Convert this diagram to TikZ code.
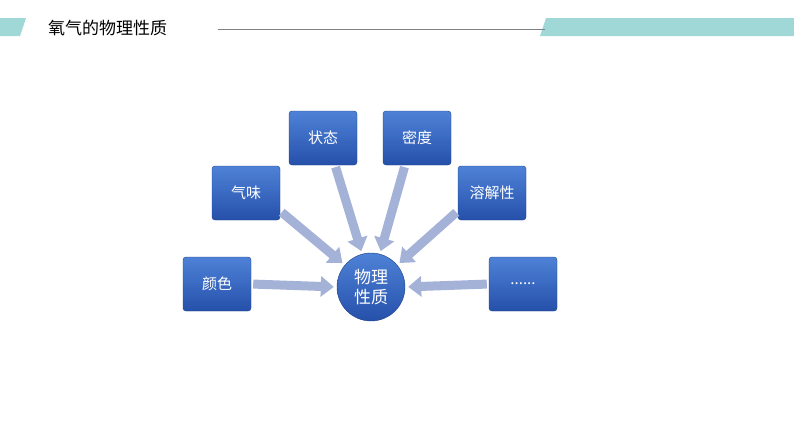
\documentclass[tikz,border=0pt]{standalone}
\usepackage{fontspec}
\setmainfont{Noto Sans CJK SC}
\usetikzlibrary{arrows.meta}
\definecolor{teal}{RGB}{160,215,215}
\definecolor{btop}{RGB}{78,130,215}
\definecolor{bbot}{RGB}{38,80,170}
\definecolor{arr}{RGB}{165,178,215}
\tikzset{
 box/.style={rounded corners=3pt,top color=btop,bottom color=bbot,draw=bbot!80!black,line width=0.4pt,minimum width=68pt,minimum height=54pt,text=white,font=\fontsize{15}{18}\selectfont,inner sep=0pt},
 fat/.style={arr,line width=9pt,-{Triangle[width=20pt,length=13pt]},shorten <=2pt,shorten >=3pt}
}
\begin{document}
\begin{tikzpicture}[x=1pt,y=-1pt]
\useasboundingbox (0,0) rectangle (794,447);
\fill[teal] (0,18) -- (26,18) -- (20,36) -- (0,36) -- cycle;
\fill[teal] (546,18) -- (794,18) -- (794,36) -- (540,36) -- cycle;
\draw[gray,line width=0.8pt] (218,29) -- (545,29);
\node[anchor=west,font=\fontsize{17}{20}\selectfont,inner sep=0pt] (title) at (48,28) {氧气的物理性质};
\node[box] (a) at (217,284) {颜色};
\node[box] (b) at (246,193) {气味};
\node[box] (c) at (323,138) {状态};
\node[box] (d) at (417,138) {密度};
\node[box] (e) at (492,193) {溶解性};
\node[box] (f) at (523,284) {......};
\node[circle,minimum size=68pt,inner sep=0pt,top color=btop,bottom color=bbot,draw=bbot!80!black,text=white,align=center,font=\fontsize{17}{20}\selectfont] (m) at (371,287) {物理\\性质};
\draw[fat] (a.east) -- (m.180);
\draw[fat] (f.west) -- (m.0);
\draw[fat] (c.south) ++(12,0) coordinate (c1) (c1) -- (m.105);
\draw[fat] (d.south) ++(-12,0) coordinate (d1) (d1) -- (m.75);
\draw[fat] (b.east) ++(0,18) coordinate (b1) (b1) -- (m.140);
\draw[fat] (e.west) ++(0,18) coordinate (e1) (e1) -- (m.40);
\end{tikzpicture}
\end{document}
